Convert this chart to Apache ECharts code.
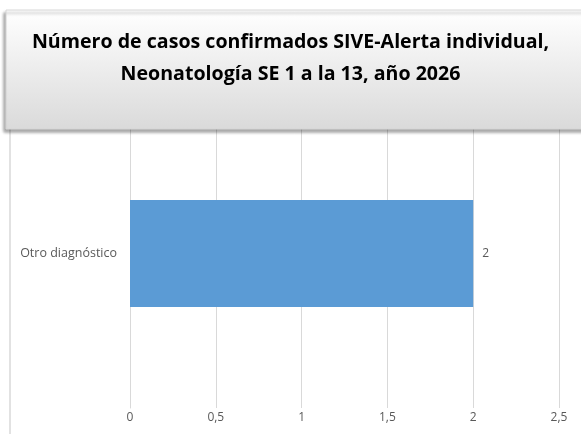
<!DOCTYPE html>
<html>
<head>
<meta charset="utf-8">
<script src="https://cdn.jsdelivr.net/npm/echarts@6/dist/echarts.min.js"></script>
<style>
html, body { margin: 0; padding: 0; background: #fff; }
#chart { width: 581px; height: 434px; }
</style>
</head>
<body>
<div id="chart"></div>
<script>
var categories = ['Otro diagnóstico'];
var casos = [2];
var xTicks = [0, 0.5, 1, 1.5, 2, 2.5];

var chart = echarts.init(document.getElementById('chart'));

chart.setOption({
    animation: false,
    title: {
        text: 'Número de casos confirmados SIVE-Alerta individual,\nNeonatología SE 1 a la 13, año 2026',
        left: 'center',
        top: 21,
        z: 20,
        textStyle: {
            fontFamily: 'Open Sans',
            fontSize: 19.6,
            fontWeight: 'bold',
            color: '#000',
            lineHeight: 32
        }
    },
    graphic: [
        {
            type: 'rect',
            z: 10,
            shape: { x: 6, y: 10, width: 590, height: 119 },
            style: {
                fill: new echarts.graphic.LinearGradient(0, 0, 0, 1, [
                    { offset: 0, color: '#ffffff' },
                    { offset: 1, color: '#dadada' }
                ]),
                stroke: '#d6d6d6',
                lineWidth: 1,
                shadowBlur: 3,
                shadowOffsetX: -2,
                shadowOffsetY: 3,
                shadowColor: 'rgba(0,0,0,0.35)'
            }
        },
        {
            type: 'line',
            z: 5,
            shape: { x1: 10, y1: 128, x2: 10, y2: 434 },
            style: { stroke: '#d9d9d9', lineWidth: 1.5 }
        }
    ],
    grid: { left: 130, right: 22, top: 99, bottom: 26 },
    xAxis: {
        type: 'value',
        min: 0,
        max: 2.5,
        interval: 0.5,
        axisLine: { show: false },
        axisTick: { show: false },
        splitLine: { lineStyle: { color: '#d9d9d9', width: 1 } },
        axisLabel: {
            color: '#595959',
            fontFamily: 'Open Sans',
            fontSize: 12,
            margin: 4,
            formatter: function (v) {
                return xTicks.indexOf(v) >= 0 ? String(v).replace('.', ',') : '';
            }
        }
    },
    yAxis: {
        type: 'category',
        data: categories,
        axisLine: { show: true, lineStyle: { color: '#d9d9d9' } },
        axisTick: { show: false },
        axisLabel: {
            color: '#595959',
            fontFamily: 'Open Sans',
            fontSize: 12.5,
            margin: 13
        }
    },
    series: [{
        type: 'bar',
        data: casos,
        barWidth: 107,
        itemStyle: { color: '#5b9bd5' },
        label: {
            show: true,
            position: 'right',
            distance: 9,
            color: '#595959',
            fontFamily: 'Open Sans',
            fontSize: 12
        }
    }]
});
</script>
</body>
</html>
